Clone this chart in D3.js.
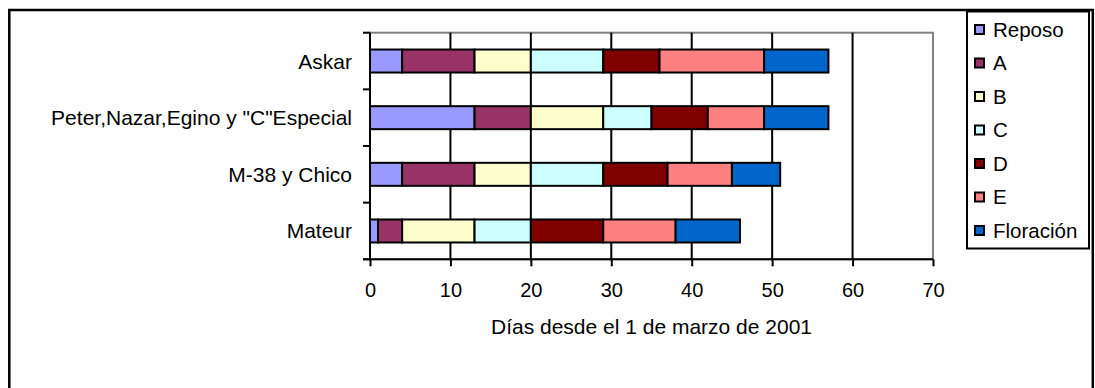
<!DOCTYPE html>
<html>
<head>
<meta charset="utf-8">
<script src="https://cdn.jsdelivr.net/npm/d3@7"></script>
<style>
  html, body { margin: 0; padding: 0; background: #fff; }
  svg { display: block; }
  text { font-family: "Liberation Sans", Arial, sans-serif; fill: #000; }
</style>
</head>
<body>
<svg id="chart" width="1095" height="388"></svg>
<script>
// Categories (top to bottom)
const categories = ["Askar", "Peter,Nazar,Egino y \"C\"Especial", "M-38 y Chico", "Mateur"];
// Stage names (series)
const stages = ["Reposo", "A", "B", "C", "D", "E", "Floración"];
const stageColors = ["#9999FF", "#993366", "#FFFFCC", "#CCFFFF", "#800000", "#FF8080", "#0066CC"];
// Duration (days) of each stage per category
const reposo    = [4, 13, 4, 1];
const stageA    = [9, 7, 9, 3];
const stageB    = [7, 9, 7, 9];
const stageC    = [9, 6, 9, 7];
const stageD    = [7, 7, 8, 9];
const stageE    = [13, 7, 8, 9];
const floracion = [8, 8, 6, 8];
const xTicks = [0, 10, 20, 30, 40, 50, 60, 70];
const xTitle = "Días desde el 1 de marzo de 2001";

const seriesValues = [reposo, stageA, stageB, stageC, stageD, stageE, floracion];
const table = categories.map((c, i) => {
  const row = { cat: c };
  stages.forEach((s, j) => row[s] = seriesValues[j][i]);
  return row;
});
const stacked = d3.stack().keys(stages)(table);

const svg = d3.select("#chart");
const plot = { left: 370, right: 933, top: 32.7, bottom: 259.3 };

const x = d3.scaleLinear().domain([0, 70]).range([plot.left, plot.right]);
const p = 0.594;
const y = d3.scaleBand().domain(categories).range([plot.top, plot.bottom])
  .paddingInner(p).paddingOuter(p / 2);
const color = d3.scaleOrdinal().domain(stages).range(stageColors);

// Outer chart border
svg.append("rect").attr("x", 9.3).attr("y", 10).attr("width", 1083.5).attr("height", 420)
  .attr("fill", "none").attr("stroke", "#000").attr("stroke-width", 2.5);

// Plot area border (gray)
svg.append("rect").attr("x", plot.left).attr("y", plot.top)
  .attr("width", plot.right - plot.left).attr("height", plot.bottom - plot.top)
  .attr("fill", "none").attr("stroke", "#808080").attr("stroke-width", 2);

// Gridlines
svg.append("g").selectAll("line").data(xTicks.filter(t => t > 0 && t < 70)).join("line")
  .attr("x1", d => x(d)).attr("x2", d => x(d))
  .attr("y1", plot.top).attr("y2", plot.bottom)
  .attr("stroke", "#000").attr("stroke-width", 2);

// Bars
svg.append("g").selectAll("g").data(stacked).join("g")
  .attr("fill", d => color(d.key))
  .selectAll("rect").data(d => d).join("rect")
  .attr("x", d => x(d[0]))
  .attr("y", d => y(d.data.cat))
  .attr("width", d => x(d[1]) - x(d[0]))
  .attr("height", y.bandwidth())
  .attr("stroke", "#000").attr("stroke-width", 2);

// X axis
const xAxis = d3.axisBottom(x).tickValues(xTicks).tickSize(7).tickPadding(17).tickFormat(d3.format("d"));
const gx = svg.append("g").attr("transform", `translate(0,${plot.bottom})`).call(xAxis);
gx.select(".domain").attr("d", `M${plot.left - 7},0H${plot.right}`).attr("stroke", "#000").attr("stroke-width", 2);
gx.selectAll(".tick line").attr("stroke", "#000").attr("stroke-width", 2);
gx.selectAll(".tick text").attr("font-size", 20).attr("font-family", "Liberation Sans, Arial, sans-serif").attr("fill", "#000");

// Y axis (category ticks at band boundaries)
const bounds = categories.map(c => y(c) - y.step() * y.paddingInner() / 2).concat([plot.bottom]);
const gy = svg.append("g");
gy.append("line").attr("x1", plot.left).attr("x2", plot.left).attr("y1", plot.top).attr("y2", plot.bottom)
  .attr("stroke", "#000").attr("stroke-width", 2);
gy.selectAll("line.t").data(bounds).join("line").attr("class", "t")
  .attr("x1", plot.left - 7).attr("x2", plot.left).attr("y1", d => d).attr("y2", d => d)
  .attr("stroke", "#000").attr("stroke-width", 2);
gy.selectAll("text").data(categories).join("text")
  .attr("x", plot.left - 18).attr("y", d => y(d) + y.bandwidth() / 2 + 7.5)
  .attr("text-anchor", "end").attr("font-size", 21).text(d => d);

// X title
svg.append("text").attr("x", (plot.left + plot.right) / 2).attr("y", 334)
  .attr("text-anchor", "middle").attr("font-size", 21).text(xTitle);

// Legend
const lg = svg.append("g");
lg.append("rect").attr("x", 967).attr("y", 11.5).attr("width", 122).attr("height", 237)
  .attr("fill", "#fff").attr("stroke", "#000").attr("stroke-width", 2);
const items = lg.selectAll("g.item").data(stages).join("g").attr("class", "item")
  .attr("transform", (d, i) => `translate(975,${29.5 + i * 33.5})`);
items.append("rect").attr("x", 0).attr("y", -4.5).attr("width", 9).attr("height", 9)
  .attr("fill", d => color(d)).attr("stroke", "#000").attr("stroke-width", 2);
items.append("text").attr("x", 18).attr("y", 7).attr("font-size", 20.5).text(d => d);
</script>
</body>
</html>
